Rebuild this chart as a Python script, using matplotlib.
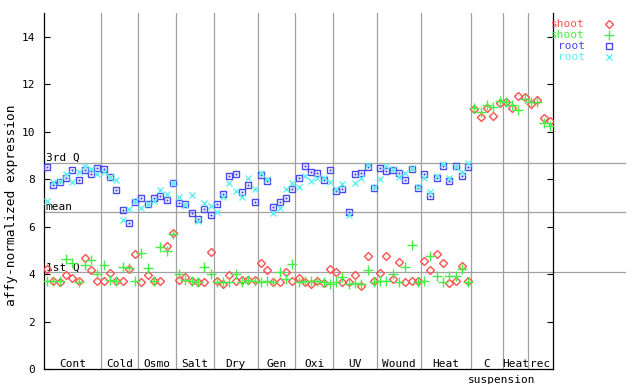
import numpy as np
import matplotlib.pyplot as plt
from matplotlib.lines import Line2D

plt.rcParams['font.family'] = 'DejaVu Sans Mono'

# groups along the x axis
groups = ["Cont", "Cold", "Osmo", "Salt", "Dry", "Gen", "Oxi", "UV",
          "Wound", "Heat", "C", "Heat", "rec"]
group_sizes = [9, 6, 6, 6, 7, 6, 6, 7, 7, 8, 5, 4, 4]

nan = np.nan

shoot_red = [
    4.20, 3.71, 3.65, 3.96, 3.82, 3.71, 4.67, 4.18, 3.71,
    3.71, 4.04, 3.71, 3.71, 4.20, 4.85,
    3.66, 3.96, 3.71, 3.71, 5.19, 5.75,
    3.75, 3.89, 3.71, 3.66, 3.66, 4.95,
    3.71, 3.57, 3.96, 3.71, 3.75, 3.75, 3.75,
    4.46, 4.18, 3.66, 3.66, 4.08, 3.71,
    3.82, 3.66, 3.57, 3.71, 3.61, 4.22,
    4.11, 3.66, 3.66, 3.96, 3.51, 4.77, 3.71,
    4.04, 4.77, 3.79, 4.50, 3.66, 3.71, 3.71,
    4.55, 4.18, 4.85, 4.46, 3.61, 3.71, 4.34, 3.72,
    10.97, 10.61, 10.99, 10.67, 11.23,
    11.25, 10.99, 11.51, 11.46,
    11.18, 11.35, 10.57, 10.46]

shoot_green = [
    3.71, 3.71, 3.71, 4.64, 4.46, 3.66, 4.39, 4.60, 3.99,
    4.39, 3.75, 3.71, 4.29, 4.25, 3.71,
    4.88, 4.25, 3.71, 5.13, 4.98, 5.69,
    3.99, 3.75, 3.71, 3.68, 4.29, 3.99,
    3.66, 3.66, 3.66, 3.99, 3.66, 3.75, 3.71,
    3.66, 3.71, 3.66, 4.08, 3.79, 4.41,
    3.66, 3.71, 3.71, 3.71, 3.66, 3.57,
    3.66, 3.89, 3.57, 3.61, 3.57, 4.18, 3.66,
    3.71, 3.71, 4.01, 3.66, 4.32, 5.23, 3.66,
    3.71, 4.78, 3.94, 3.66, 3.94, 3.94, 4.20, 3.66,
    10.99, 10.83, 11.13, 11.04, 11.30,
    11.25, 11.13, 10.92, 11.37,
    11.27, 11.27, 10.36, 10.26]

root_blue = [
    8.51, 7.76, 7.90, 8.04, 8.39, 7.97, 8.39, 8.22, 8.46,
    8.42, 8.08, 7.55, 6.71, 6.14, 7.06,
    7.20, 6.96, 7.20, 7.30, 7.13, 7.83,
    6.99, 6.96, 6.57, 6.31, 6.73, 6.48,
    6.96, 7.38, 8.14, 8.21, 7.48, 7.76, 7.03,
    8.18, 7.93, 6.82, 7.03, 7.20, 7.58,
    8.04, 8.56, 8.29, 8.25, 7.97, 8.39,
    7.52, 7.58, 6.64, 8.22, 8.25, 8.51, 7.65,
    8.46, 8.35, 8.39, 8.25, 7.97, 8.42, 7.62,
    8.22, 7.30, 8.04, 8.56, 7.93, 8.56, 8.14, 8.51,
    nan, nan, nan, nan, nan,
    nan, nan, nan, nan,
    nan, nan, nan, nan]

root_cyan = [
    7.09, 7.87, 7.94, 8.22, 7.87, 8.32, 8.58, 8.42, 8.22,
    8.29, 8.11, 7.97, 6.28, 6.73, 7.09,
    6.78, 6.96, 7.09, 7.55, 7.38, 7.86,
    7.24, 6.92, 7.34, 6.26, 6.99, 6.87,
    6.61, 7.27, 7.83, 7.52, 7.24, 8.04, 7.58,
    8.25, 8.00, 6.57, 6.80, 7.58, 7.86,
    7.66, 8.15, 7.93, 8.04, 8.04, 7.87,
    7.58, 7.80, 6.50, 7.83, 8.04, 8.60, 7.66,
    8.00, 8.58, 8.42, 8.08, 8.28, 8.46, 7.66,
    8.04, 7.48, 8.15, 8.64, 8.04, 8.51, 8.32, 8.70,
    nan, nan, nan, nan, nan,
    nan, nan, nan, nan,
    nan, nan, nan, nan]

# summary lines
q3 = 8.69
mean = 6.63
q1 = 4.08

red = '#ff5050'
green = '#44ee44'
blue = '#4848f0'
cyan = '#5ff0f0'
grey = '#a0a0a0'

fig = plt.figure(figsize=(6.4, 3.84), dpi=100)
ax = fig.add_axes([44/640, 1-369/384, 509/640, 355.7/384])

x = np.arange(1, len(shoot_red) + 1)

# group separators
edges = np.cumsum(group_sizes)
for e in edges[:-1]:
    ax.axvline(e + 0.5, color=grey, lw=0.9, zorder=1)

for v, lab in [(q3, "3rd Q"), (mean, "mean"), (q1, "1st Q")]:
    ax.axhline(v, xmin=0, xmax=1.141, color=grey, lw=0.9, clip_on=False, zorder=1)
    ax.text(0.75, v + 0.08, lab, fontsize=8, ha='left', va='baseline')

ax.plot(x, shoot_red, ls='none', marker='D', ms=3.6, mfc='none', mec=red, mew=1.0, zorder=3)
ax.plot(x, shoot_green, ls='none', marker='+', ms=6.5, mec=green, mew=1.0, zorder=3)
ax.plot(x, root_blue, ls='none', marker='s', ms=4.0, mfc='none', mec=blue, mew=1.0, zorder=3)
ax.plot(x, root_blue, ls='none', marker='s', ms=1.0, mfc=blue, mec=blue, mew=0.3, zorder=3)
ax.plot(x, root_cyan, ls='none', marker='x', ms=5.0, mec=cyan, mew=1.0, zorder=4)

# group labels
starts = edges - np.array(group_sizes)
for s, n, lab in zip(starts, group_sizes, groups):
    ax.text(s + (n + 1) / 2, 0.08, lab, fontsize=8, ha='center', va='baseline')
ax.text(73.4, -0.58, "suspension", fontsize=8, ha='center', va='baseline')

ax.set_xlim(0.5, 81.5)
ax.set_ylim(0, 15)
ax.set_xticks([])
ax.set_yticks(range(0, 15, 2))
ax.tick_params(axis='y', direction='in', length=4.5, width=0.8, right=True,
               labelsize=8, pad=6.5)
ax.spines['top'].set_visible(False)
for sp in ['left', 'right', 'bottom']:
    ax.spines[sp].set_linewidth(0.9)

fig.text(12/640, 1-205/384, "affy-normalized expression", rotation=90,
         fontsize=9.3, ha='center', va='center')

# legend
leg = [("shoot", red, dict(marker='D', ms=3.6, mfc='none', mec=red, mew=1.0)),
       ("shoot", green, dict(marker='+', ms=6.5, mec=green, mew=1.0)),
       ("root", blue, dict(marker='s', ms=4.0, mfc='none', mec=blue, mew=1.0)),
       ("root", cyan, dict(marker='x', ms=5.0, mec=cyan, mew=1.0))]
for i, (name, col, mk) in enumerate(leg):
    yy = 1 - (24 + i * 11) / 384
    fig.text(585/640, yy, name, color=col, fontsize=8, ha='right', va='center')
    fig.add_artist(Line2D([609/640], [yy], transform=fig.transFigure, ls='none', **mk))

fig.savefig('out.png', dpi=100)
